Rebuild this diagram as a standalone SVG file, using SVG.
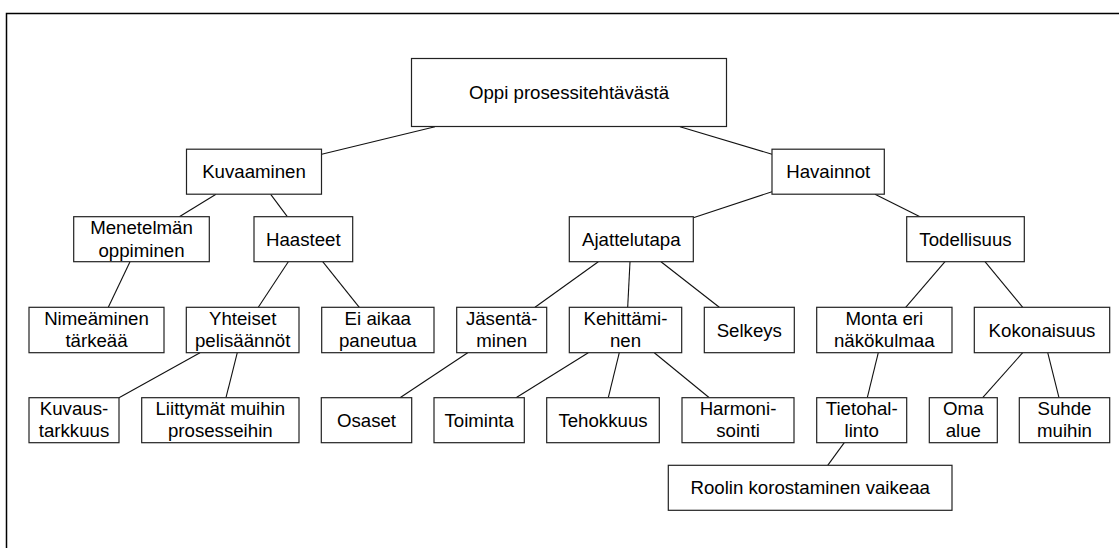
<svg xmlns="http://www.w3.org/2000/svg" width="1119" height="548" viewBox="0 0 1119 548">
<style>
.n rect{fill:#fff;stroke:#222;stroke-width:1.2}
text{font-family:"Liberation Sans",Arial,sans-serif;font-size:18.67px;fill:#000;text-anchor:middle}
#edges line{stroke:#111;stroke-width:1.1}
</style>
<rect x="6.5" y="13.5" width="1200" height="600" fill="#fff" stroke="#000" stroke-width="1.5"/>
<g id="edges">
<line x1="321.7" y1="154.3" x2="435" y2="126.7"/>
<line x1="680" y1="126.7" x2="772" y2="154.3"/>
<line x1="216" y1="194.3" x2="179.3" y2="216.7"/>
<line x1="270.7" y1="194.3" x2="287.3" y2="216.7"/>
<line x1="130" y1="261.7" x2="108.3" y2="307.3"/>
<line x1="288.3" y1="261.7" x2="258.3" y2="307.3"/>
<line x1="322.7" y1="261.7" x2="359.3" y2="307.3"/>
<line x1="200" y1="352.7" x2="119" y2="397.7"/>
<line x1="237.3" y1="352.7" x2="226" y2="397.7"/>
<line x1="772" y1="191.7" x2="693.3" y2="217.7"/>
<line x1="875" y1="194.3" x2="920" y2="216.7"/>
<line x1="598.3" y1="261.7" x2="535" y2="307.3"/>
<line x1="630" y1="261.7" x2="627.7" y2="307.3"/>
<line x1="661" y1="261.7" x2="719.3" y2="307.3"/>
<line x1="467.7" y1="352.7" x2="400" y2="397.7"/>
<line x1="588.3" y1="352.7" x2="516" y2="397.7"/>
<line x1="619.3" y1="352.7" x2="608.3" y2="397.7"/>
<line x1="654.3" y1="352.7" x2="709.3" y2="397.7"/>
<line x1="945" y1="261.7" x2="905.7" y2="307.3"/>
<line x1="985" y1="261.7" x2="1022.7" y2="307.3"/>
<line x1="878.3" y1="352.7" x2="867.3" y2="397.7"/>
<line x1="1022.7" y1="352.7" x2="982.7" y2="397.7"/>
<line x1="1047.7" y1="352.7" x2="1059" y2="397.7"/>
<line x1="844.3" y1="442.7" x2="827.7" y2="465.3"/>
</g>
<g id="root" class="n"><rect x="411.5" y="58.5" width="315" height="68"/><text x="569" y="98.5">Oppi prosessitehtävästä</text></g>
<g id="kuvaaminen" class="n"><rect x="186.5" y="149.2" width="135" height="45"/><text x="254" y="178.3">Kuvaaminen</text></g>
<g id="havainnot" class="n"><rect x="772" y="149.2" width="112.3" height="45"/><text x="828.2" y="178.3">Havainnot</text></g>
<g id="menetelman" class="n"><rect x="73.7" y="216.7" width="135.6" height="45"/><text x="141.5" y="234">Menetelmän</text><text x="141.5" y="256.5">oppiminen</text></g>
<g id="haasteet" class="n"><rect x="254" y="216.7" width="98.7" height="45"/><text x="303.3" y="245.8">Haasteet</text></g>
<g id="ajattelutapa" class="n"><rect x="569.3" y="216.7" width="124" height="45"/><text x="631.3" y="245.8">Ajattelutapa</text></g>
<g id="todellisuus" class="n"><rect x="906.7" y="216.7" width="117.6" height="45"/><text x="965.5" y="245.8">Todellisuus</text></g>
<g id="nimeaminen" class="n"><rect x="29" y="307.3" width="135" height="45.4"/><text x="96.5" y="324.5">Nimeäminen</text><text x="96.5" y="347">tärkeää</text></g>
<g id="yhteiset" class="n"><rect x="186.3" y="307.3" width="112.7" height="45.4"/><text x="242.7" y="324.5">Yhteiset</text><text x="242.7" y="347">pelisäännöt</text></g>
<g id="eiaikaa" class="n"><rect x="321.7" y="307.3" width="112.3" height="45.4"/><text x="377.8" y="324.5">Ei aikaa</text><text x="377.8" y="347">paneutua</text></g>
<g id="jasentaminen" class="n"><rect x="456.7" y="307.3" width="90" height="45.4"/><text x="501.7" y="324.5">Jäsentä-</text><text x="501.7" y="347">minen</text></g>
<g id="kehittaminen" class="n"><rect x="569.3" y="307.3" width="112.4" height="45.4"/><text x="625.5" y="324.5">Kehittämi-</text><text x="625.5" y="347">nen</text></g>
<g id="selkeys" class="n"><rect x="704.3" y="307.3" width="90" height="45.4"/><text x="749.3" y="336.5">Selkeys</text></g>
<g id="monta" class="n"><rect x="816.7" y="307.3" width="135.3" height="45.4"/><text x="884.3" y="324.5">Monta eri</text><text x="884.3" y="347">näkökulmaa</text></g>
<g id="kokonaisuus" class="n"><rect x="974.3" y="307.3" width="135.4" height="45.4"/><text x="1042" y="336.5">Kokonaisuus</text></g>
<g id="kuvaustarkkuus" class="n"><rect x="29" y="397.7" width="90" height="45"/><text x="74" y="414.8">Kuvaus-</text><text x="74" y="437.3">tarkkuus</text></g>
<g id="liittymat" class="n"><rect x="141.7" y="397.7" width="157.3" height="45"/><text x="220.3" y="414.8">Liittymät muihin</text><text x="220.3" y="437.3">prosesseihin</text></g>
<g id="osaset" class="n"><rect x="321.3" y="397.7" width="90.4" height="45"/><text x="366.5" y="426.8">Osaset</text></g>
<g id="toiminta" class="n"><rect x="434" y="397.7" width="90.3" height="45"/><text x="479.2" y="426.8">Toiminta</text></g>
<g id="tehokkuus" class="n"><rect x="546.7" y="397.7" width="112.6" height="45"/><text x="603" y="426.8">Tehokkuus</text></g>
<g id="harmonisointi" class="n"><rect x="682" y="397.7" width="112" height="45"/><text x="738" y="414.8">Harmoni-</text><text x="738" y="437.3">sointi</text></g>
<g id="tietohallinto" class="n"><rect x="816.7" y="397.7" width="90" height="45"/><text x="861.7" y="414.8">Tietohal-</text><text x="861.7" y="437.3">linto</text></g>
<g id="omaalue" class="n"><rect x="929.3" y="397.7" width="68" height="45"/><text x="963.3" y="414.8">Oma</text><text x="963.3" y="437.3">alue</text></g>
<g id="suhdemuihin" class="n"><rect x="1019.3" y="397.7" width="90.4" height="45"/><text x="1064.5" y="414.8">Suhde</text><text x="1064.5" y="437.3">muihin</text></g>
<g id="roolin" class="n"><rect x="668.3" y="465.3" width="283.7" height="45"/><text x="810.2" y="494.3">Roolin korostaminen vaikeaa</text></g>
</svg>
